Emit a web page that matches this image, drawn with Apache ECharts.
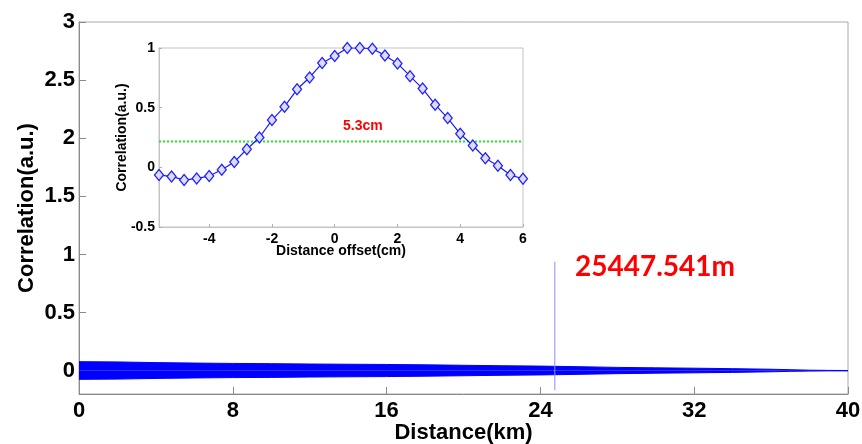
<!DOCTYPE html>
<html>
<head>
<meta charset="utf-8">
<script src="https://cdn.jsdelivr.net/npm/echarts@6/dist/echarts.min.js"></script>
<style>
html,body{margin:0;padding:0;background:#fff;}
#chart{width:862px;height:444px;}
</style>
</head>
<body>
<div id="chart"></div>
<script>
// ---- main chart data ----
const mainXTicks = [0, 8, 16, 24, 32, 40];
const mainYTicks = [0, 0.5, 1, 1.5, 2, 2.5, 3];
// envelope of the dense noise band (km, correlation)
const envKm =    [0,     2,     4,     6,     8,     10,    12,    14,    16,    18,    20,    22,    24,    26,    28,    30,    32,    34,    36,    37,    38,    39,    40];
const envUpper = [0.078, 0.076, 0.070, 0.066, 0.063, 0.061, 0.058, 0.056, 0.054, 0.051, 0.047, 0.043, 0.040, 0.035, 0.029, 0.025, 0.022, 0.018, 0.013, 0.009, 0.005, 0.003, 0.002];
const envLower = [-0.074,-0.072,-0.066,-0.062,-0.059,-0.057,-0.054,-0.052,-0.050,-0.047,-0.043,-0.039,-0.036,-0.031,-0.025,-0.021,-0.018,-0.014,-0.009,-0.005,-0.003,-0.001,-0.001];
// correlation peak
const spikeKm = [24.75, 24.75];
const spikeVal = [-0.166, 0.938];
const peakLabel = '25447.541m';

// ---- inset data ----
const insetXTicks = [-4, -2, 0, 2, 4, 6];
const insetYTicks = [-0.5, 0, 0.5, 1];
const offsetCm = [-5.6,-5.2,-4.8,-4.4,-4.0,-3.6,-3.2,-2.8,-2.4,-2.0,-1.6,-1.2,-0.8,-0.4,0.0,0.4,0.8,1.2,1.6,2.0,2.4,2.8,3.2,3.6,4.0,4.4,4.8,5.2,5.6,6.0];
const corrVals = [-0.065,-0.076,-0.107,-0.093,-0.073,-0.020,0.045,0.152,0.250,0.396,0.508,0.654,0.753,0.874,0.933,1.0,1.0,0.994,0.938,0.871,0.764,0.660,0.525,0.413,0.281,0.183,0.076,0.014,-0.065,-0.096];
const thresholdX = [-5.6, 6];
const thresholdVal = [0.216, 0.216];
const widthLabel = '5.3cm';

const chart = echarts.init(document.getElementById('chart'), null, {renderer: 'canvas'});
const tickFont = 'Liberation Sans, Arial, sans-serif';

const option = {
  backgroundColor: '#fff',
  animation: false,
  grid: [
    {left: 79, right: 14, top: 22, bottom: 50, outerBoundsMode: 'none', containLabel: false, show: true, borderColor: '#a8a8a8', borderWidth: 1, backgroundColor: '#fff'},
    {left: 159, top: 48, width: 364, height: 179, outerBoundsMode: 'none', containLabel: false, show: true, borderColor: '#c4c4c4', borderWidth: 1, backgroundColor: '#fff'}
  ],
  xAxis: [
    {
      type: 'value', gridIndex: 0, min: 0, max: 40, interval: 8,
      name: 'Distance(km)', nameLocation: 'middle', nameGap: 28, nameMoveOverlap: false,
      nameTextStyle: {fontFamily: tickFont, fontWeight: 'bold', fontSize: 22, color: '#000'},
      axisLine: {show: true, onZero: false, lineStyle: {color: '#8a8a8a'}},
      axisTick: {show: true, inside: true, length: 7, lineStyle: {color: '#8a8a8a'}},
      axisLabel: {fontFamily: tickFont, fontWeight: 'bold', fontSize: 22, color: '#000', margin: 6},
      splitLine: {show: false}
    },
    {
      type: 'value', gridIndex: 1, min: -5.6, max: 6,
      name: 'Distance offset(cm)', nameLocation: 'middle', nameGap: 17, nameMoveOverlap: false,
      nameTextStyle: {fontFamily: tickFont, fontWeight: 'bold', fontSize: 14, color: '#000'},
      axisLine: {show: true, onZero: false, lineStyle: {color: '#c4c4c4'}},
      axisTick: {show: true, inside: true, length: 3, customValues: insetXTicks, lineStyle: {color: '#b0b0b0'}},
      axisLabel: {fontFamily: tickFont, fontWeight: 'bold', fontSize: 14, color: '#000', margin: 5, customValues: insetXTicks},
      splitLine: {show: false}
    }
  ],
  yAxis: [
    {
      type: 'value', gridIndex: 0, min: -0.2, max: 3,
      name: 'Correlation(a.u.)', nameLocation: 'middle', nameGap: 41, nameMoveOverlap: false,
      nameTextStyle: {fontFamily: tickFont, fontWeight: 'bold', fontSize: 22, color: '#000'},
      axisLine: {show: true, onZero: false, lineStyle: {color: '#8a8a8a'}},
      axisTick: {show: true, inside: true, length: 7, customValues: mainYTicks, lineStyle: {color: '#8a8a8a'}},
      axisLabel: {fontFamily: tickFont, fontWeight: 'bold', fontSize: 22, color: '#000', margin: 4, customValues: mainYTicks},
      splitLine: {show: false}
    },
    {
      type: 'value', gridIndex: 1, min: -0.5, max: 1,
      name: 'Correlation(a.u.)', nameLocation: 'middle', nameGap: 30, nameMoveOverlap: false,
      nameTextStyle: {fontFamily: tickFont, fontWeight: 'bold', fontSize: 14, color: '#000'},
      axisLine: {show: true, onZero: false, lineStyle: {color: '#c4c4c4'}},
      axisTick: {show: true, inside: true, length: 3, customValues: insetYTicks, lineStyle: {color: '#b0b0b0'}},
      axisLabel: {fontFamily: tickFont, fontWeight: 'bold', fontSize: 14, color: '#000', margin: 4, customValues: insetYTicks},
      splitLine: {show: false}
    }
  ],
  series: [
    {
      type: 'line', xAxisIndex: 0, yAxisIndex: 0,
      data: envKm.map((k, i) => [k, envUpper[i]]), showSymbol: false, symbol: 'none',
      lineStyle: {color: '#0000ff', width: 1},
      areaStyle: {color: '#0000ff', opacity: 1, origin: 0}
    },
    {
      type: 'line', xAxisIndex: 0, yAxisIndex: 0,
      data: envKm.map((k, i) => [k, envLower[i]]), showSymbol: false, symbol: 'none',
      lineStyle: {color: '#0000ff', width: 1},
      areaStyle: {color: '#0000ff', opacity: 1, origin: 0}
    },
    {
      type: 'line', xAxisIndex: 0, yAxisIndex: 0,
      data: spikeKm.map((k, i) => [k, spikeVal[i]]), showSymbol: false, symbol: 'none',
      lineStyle: {color: '#8c8cff', width: 1}
    },
    {
      type: 'line', xAxisIndex: 1, yAxisIndex: 1,
      data: thresholdX.map((x, i) => [x, thresholdVal[i]]), showSymbol: false, symbol: 'none',
      lineStyle: {color: '#22e622', width: 2, type: [2, 2]}
    },
    {
      type: 'line', xAxisIndex: 1, yAxisIndex: 1,
      data: offsetCm.map((x, i) => [x, corrVals[i]]),
      symbol: 'diamond', symbolSize: [9, 11], showSymbol: true,
      lineStyle: {color: '#1a1aff', width: 1.2},
      itemStyle: {color: '#dcdcff', borderColor: '#2020ff', borderWidth: 1.3}
    }
  ],
  graphic: [
    {
      type: 'text', left: 575, top: 253, z: 10,
      style: {text: peakLabel, fill: '#ff0000', font: 'bold 28px Lato, "Open Sans", sans-serif'}
    },
    {
      type: 'text', left: 343, top: 119, z: 10,
      style: {text: widthLabel, fill: '#ff0000', font: 'bold 14px "Liberation Sans", Arial, sans-serif'}
    }
  ]
};
chart.setOption(option);
</script>
</body>
</html>
